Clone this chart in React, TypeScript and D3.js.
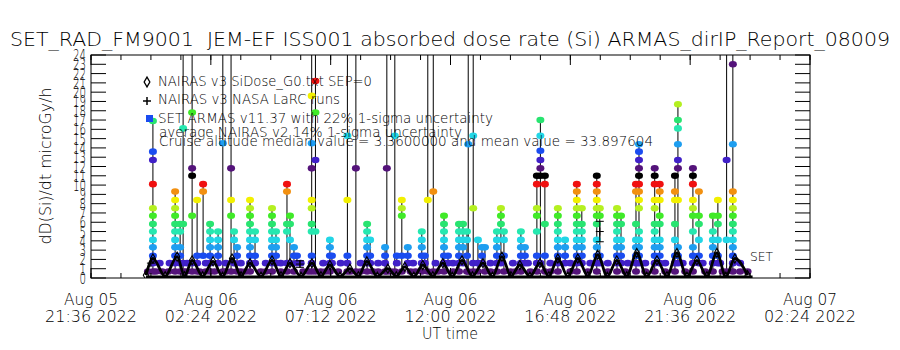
import React from 'react';
import * as d3 from 'd3';

const W = 900;
const H = 350;
const PLOT = { left: 91, right: 810, top: 55, bottom: 278 };

const TITLE = 'SET_RAD_FM9001  JEM-EF ISS001 absorbed dose rate (Si) ARMAS_dirIP_Report_08009';
const Y_LABEL = 'dD(Si)/dt microGy/h';
const X_LABEL = 'UT time';

const X_START = Date.UTC(2022, 7, 5, 21, 36);
const X_END = Date.UTC(2022, 7, 7, 2, 24);
const DAY0 = Date.UTC(2022, 7, 6, 0, 0);

const X_TICK_LINE1 = ['Aug 05', 'Aug 06', 'Aug 06', 'Aug 06', 'Aug 06', 'Aug 06', 'Aug 07'];
const X_TICK_LINE2 = ['21:36 2022', '02:24 2022', '07:12 2022', '12:00 2022', '16:48 2022', '21:36 2022', '02:24 2022'];
const Y_TICKS = [0, 1, 2, 3, 4, 5, 6, 7, 8, 9, 10, 11, 12, 13, 14, 15, 16, 17, 18, 19, 20, 21, 22, 23, 24];

const LEGEND = [
  'NAIRAS v3 SiDose_G0.txt SEP=0',
  'NAIRAS v3 NASA LaRC runs',
  'SET ARMAS v11.37 with 22% 1-sigma uncertainty',
  'average NAIRAS v2 14% 1-sigma uncertainty',
  'Cruise altitude median value = 3.3600000 and mean value = 33.897604',
];
const SERIES_LABEL = 'SET';

// colour table of the dose levels (cycles every 13 levels)
const PALETTE = ['#54137a', '#4020c8', '#1a4cf0', '#1e9ef0', '#22d6e6', '#26e8b0', '#28e470',
  '#40ea28', '#b4f020', '#f2f000', '#f29010', '#f01010', '#000000'];
const LEVEL_STEP = 0.855;

// NAIRAS v3 (hours after Aug 06 00:00 UT, dose rate) — orbit humps
const NAIRAS_PEAKS: [number, number][] = [
  [0.08, 2.1], [1.05, 2.3], [1.65, 1.9], [2.49, 1.8], [3.25, 2.1], [3.97, 1.6], [4.85, 1.9],
  [5.57, 1.6], [6.45, 1.6], [7.17, 1.4], [7.97, 1.0], [8.65, 1.8], [9.49, 1.0], [10.17, 1.2],
  [10.89, 1.4], [11.69, 1.6], [12.46, 1.9], [13.3, 1.6], [14.06, 2.3], [14.78, 1.4], [15.58, 1.6],
  [16.3, 2.1], [17.1, 2.1], [17.9, 2.5], [18.66, 1.9], [19.46, 2.7], [20.27, 1.9], [21.07, 2.7],
  [21.87, 1.9], [22.67, 2.7], [23.39, 2.1],
];
const NAIRAS_TROUGHS: [number, number][] = [
  [-0.2, 0.3], [0.57, 0.2], [1.35, 0.2], [2.07, 0.2], [2.87, 0.15], [3.61, 0.2], [4.41, 0.15],
  [5.21, 0.2], [6.01, 0.15], [6.81, 0.2], [7.57, 0.15], [8.31, 0.2], [9.07, 0.15], [9.83, 0.2],
  [10.53, 0.15], [11.29, 0.2], [12.07, 0.15], [12.88, 0.2], [13.68, 0.15], [14.42, 0.2],
  [15.18, 0.15], [15.94, 0.2], [16.7, 0.15], [17.5, 0.2], [18.28, 0.15], [19.06, 0.2],
  [19.86, 0.15], [20.67, 0.2], [21.47, 0.15], [22.27, 0.2], [23.03, 0.15], [23.9, 0.3],
];
const NAIRAS_FLOOR: [number, number][] = [[-0.2, 0.1], [24.1, 0.1]];

// NAIRAS v3 LaRC runs: [hour, value, 1-sigma]
const LARC: [number, number, number][] = [[0.0, 1.6, 0], [5.97, 1.5, 0.35], [17.98, 5.0, 1.1]];

// SET ARMAS readings grouped by time: [hour, readings, runs off the top]
const ARMAS: [number, number[], boolean][] = [
  [0.08, [0.7, 1.6, 2.4, 3.3, 4.1, 5.0, 5.8, 6.7, 7.5, 10.1, 12.7, 13.6, 16.9], false],
  [0.97, [0.7, 1.6, 2.4, 3.3, 4.1, 5.0, 5.8, 6.7, 7.5, 8.4, 9.3], false],
  [1.17, [0.7, 1.6, 2.4, 3.3, 5.0, 5.8], false],
  [1.29, [0.7, 1.6, 5.8, 16.1], true],
  [1.65, [0.7, 1.6, 6.7, 11.0, 11.8, 17.8], true],
  [1.85, [0.7, 1.6, 2.4, 8.4], false],
  [2.09, [2.4, 9.3, 10.1], false],
  [2.37, [0.7, 1.6, 2.4, 3.3, 4.1, 5.0, 5.8], false],
  [2.69, [1.6, 2.4, 3.3, 4.1, 5.0], false],
  [2.88, [0.7, 14.5], true],
  [3.21, [0.7, 11.8, 8.4, 6.7], true],
  [3.33, [1.6, 5.0, 4.1], false],
  [3.45, [0.7, 3.3, 2.4], false],
  [3.97, [0.7, 1.6, 2.4, 3.3, 4.1, 5.0, 5.8, 6.7, 7.5, 8.4], false],
  [4.17, [1.6, 2.4, 4.1, 5.0], false],
  [4.85, [0.7, 1.6, 2.4, 3.3, 4.1, 5.0, 5.8, 6.7, 7.5], false],
  [5.01, [1.6, 2.4, 3.3, 4.1, 5.0], false],
  [5.45, [0.7, 1.6, 5.0, 5.8, 9.3, 10.1], false],
  [5.57, [1.6, 4.1, 5.8, 6.7], false],
  [5.73, [0.7, 2.4, 3.3], false],
  [5.85, [1.6, 2.4], false],
  [6.44, [0.7, 1.6, 2.4, 5.0, 5.8, 7.5, 8.4, 11.8, 14.5, 19.6], true],
  [6.59, [0.7, 5.0, 12.7, 17.8, 21.2], true],
  [7.17, [0.7, 1.6, 2.4, 3.3, 4.1], false],
  [7.25, [1.6, 2.4], false],
  [7.87, [0.7, 1.6, 2.4, 8.4, 15.3], true],
  [8.21, [0.7, 11.8], true],
  [8.66, [0.7, 1.6, 2.4, 3.3, 4.1, 5.0, 5.8], false],
  [8.78, [1.6, 2.4, 4.1], false],
  [9.38, [0.7, 1.6, 2.4, 3.3], false],
  [9.45, [0.7, 11.8], true],
  [9.77, [0.7, 15.3], true],
  [9.85, [1.6, 2.4], false],
  [10.05, [0.7, 2.4, 6.7, 7.5, 8.4], false],
  [10.29, [1.6, 2.4, 3.3], false],
  [10.85, [0.7, 1.6, 2.4, 3.3, 4.1, 5.0], false],
  [10.97, [1.6, 2.4], false],
  [11.09, [0.7, 8.4], true],
  [11.31, [0.7, 9.3], true],
  [11.74, [0.7, 1.6, 2.4, 3.3, 4.1, 5.0, 5.8, 6.7], false],
  [11.9, [1.6, 2.4], false],
  [12.34, [0.7, 1.6, 2.4, 3.3, 4.1, 5.0, 5.8], false],
  [12.5, [1.6, 3.3, 4.1, 5.0, 5.8], false],
  [12.66, [0.7, 2.4, 4.1, 5.0], false],
  [12.71, [0.7, 14.4], true],
  [12.91, [0.7, 7.5, 15.3], true],
  [13.1, [0.7, 1.6, 4.1], false],
  [13.26, [1.6, 2.4, 3.3], false],
  [13.38, [0.7, 3.3], false],
  [13.86, [0.7, 1.6, 2.4, 3.3, 4.1, 5.0], false],
  [14.02, [1.6, 5.8, 6.7, 7.5], false],
  [14.14, [0.7, 2.4, 4.1, 5.0], false],
  [14.82, [0.7, 1.6, 2.4, 3.3, 4.1, 5.0], false],
  [14.98, [1.6, 2.4, 3.3], false],
  [15.46, [0.7, 1.6, 2.4, 5.0, 6.7, 7.5, 10.1, 11.0], false],
  [15.6, [1.6, 11.0, 11.8, 12.7, 13.7, 15.3, 17.0], false],
  [15.78, [0.7, 2.4, 5.8, 10.1, 11.0], false],
  [16.3, [0.7, 1.6, 2.4, 3.3, 4.1, 5.0, 5.8, 6.7, 7.5], false],
  [16.59, [1.6, 2.4, 3.3, 4.1], false],
  [17.06, [0.7, 1.6, 2.4, 3.3, 4.1, 5.0, 5.8, 6.7, 7.5, 8.4, 9.3, 10.1], false],
  [17.26, [1.6, 2.4, 3.3, 4.1, 5.0, 5.8, 7.5], false],
  [17.86, [0.7, 1.6, 2.4, 3.3, 4.1, 5.8, 6.7, 7.5, 8.4, 9.3, 10.1, 11.0], false],
  [17.98, [1.6, 2.4, 6.7, 7.5], false],
  [18.67, [0.7, 1.6, 2.4, 3.3, 4.1, 5.0, 5.8, 6.7, 7.5], false],
  [18.83, [1.6, 2.4, 3.3, 4.1, 5.8, 6.7], false],
  [19.43, [0.7, 1.6, 2.4, 3.3, 4.1, 5.8, 9.3, 10.1], false],
  [19.55, [1.6, 2.4, 3.3, 4.1, 5.0, 7.5, 8.4, 9.3, 10.1, 11.0, 11.8, 12.7, 13.6, 14.4], false],
  [20.18, [0.7, 1.6, 2.4, 3.3, 4.1, 5.0, 5.8, 7.5, 8.4, 10.1, 11.0, 11.8], false],
  [20.38, [1.6, 2.4, 3.3, 4.1, 5.8, 6.7, 8.4, 9.3, 10.1], false],
  [20.99, [0.7, 1.6, 2.4, 4.1, 5.8, 8.4, 9.3, 11.0], false],
  [21.11, [1.6, 2.4, 3.3, 8.4, 11.8, 12.7, 14.4, 16.1, 17.0, 18.7], false],
  [21.71, [0.7, 1.6, 2.4, 3.3, 5.0, 6.7, 7.5, 8.4, 10.1, 11.0, 11.8], false],
  [21.95, [1.6, 2.4, 4.1, 5.8, 6.7, 9.3], false],
  [22.51, [0.7, 1.6, 2.4, 3.3, 4.1, 5.0, 6.7], false],
  [22.71, [1.6, 2.4, 4.1, 5.8, 6.7, 8.4], false],
  [23.06, [0.7, 4.1, 12.7], true],
  [23.31, [0.7, 1.6, 2.4, 3.3, 4.1, 5.0, 5.8, 6.7, 7.5, 8.4, 9.3, 14.4, 23.0], true],
];

// SET ARMAS quiet-time readings between the columns: [hour, value]
const ARMAS_QUIET: [number, number][] = [
  [-0.12, 0.7], [0.2, 0.7], [0.45, 0.7], [0.7, 0.7], [1.4, 0.7], [1.95, 0.7], [2.2, 0.7],
  [2.55, 0.7], [3.0, 0.7], [3.6, 0.7], [3.8, 0.7], [4.4, 0.7], [4.6, 0.7], [5.2, 0.7],
  [6.1, 0.7], [6.3, 0.7], [6.8, 0.7], [7.0, 0.7], [7.5, 0.7], [8.0, 0.7], [8.4, 0.7],
  [8.9, 0.7], [9.1, 0.7], [9.6, 0.7], [10.4, 0.7], [10.6, 0.7], [11.5, 0.7], [12.1, 0.7],
  [13.6, 0.7], [14.4, 0.7], [14.6, 0.7], [15.2, 0.7], [16.0, 0.7], [16.8, 0.7], [17.5, 0.7],
  [18.3, 0.7], [19.0, 0.7], [19.8, 0.7], [20.6, 0.7], [21.4, 0.7], [22.2, 0.7], [22.9, 0.7],
  [23.6, 0.7], [23.9, 0.7],
  [0.35, 1.6], [0.75, 1.6], [1.45, 1.6], [2.2, 1.6], [3.0, 1.6], [3.6, 1.6], [4.6, 1.6],
  [5.2, 1.6], [6.0, 1.6], [6.9, 1.6], [7.6, 1.6], [8.4, 1.6], [9.1, 1.6], [10.5, 1.6],
  [11.4, 1.6], [12.1, 1.6], [12.9, 1.6], [13.6, 1.6], [14.5, 1.6], [15.1, 1.6], [16.0, 1.6],
  [16.8, 1.6], [17.6, 1.6], [18.3, 1.6], [19.1, 1.6], [19.8, 1.6], [20.6, 1.6], [21.3, 1.6],
  [22.1, 1.6], [22.8, 1.6], [23.6, 1.6],
];

const SPIKE_TOP = 30;
const FONT = 'DejaVu Sans, Liberation Sans, sans-serif';

function levelColor(v: number) {
  const n = Math.round((v - 0.7) / LEVEL_STEP);
  return PALETTE[((n % 13) + 13) % 13];
}

export default function App() {
  const x = d3.scaleUtc().domain([new Date(X_START), new Date(X_END)]).range([PLOT.left, PLOT.right]);
  const y = d3.scaleLinear().domain([0, 24]).range([PLOT.bottom, PLOT.top]);
  const hx = (h: number) => x(new Date(DAY0 + h * 3600e3));

  const majorTicks = d3.range(0, 7).map((i) => new Date(X_START + i * 4.8 * 3600e3));
  const minorTicks = d3.range(0, 25).map((i) => new Date(X_START + i * 1.2 * 3600e3));

  const nairas = [...NAIRAS_PEAKS, ...NAIRAS_TROUGHS].sort((a, b) => a[0] - b[0]);
  const nLine = d3.line<[number, number]>().x((d) => hx(d[0])).y((d) => y(d[1])).curve(d3.curveMonotoneX);
  const floorLine = d3.line<[number, number]>().x((d) => hx(d[0])).y((d) => y(d[1]));

  const dots: { h: number; v: number }[] = [];
  ARMAS_QUIET.forEach(([h, v]) => dots.push({ h, v }));
  ARMAS.forEach(([h, vals]) => vals.forEach((v) => dots.push({ h, v })));

  const diamond = d3.symbol().type(d3.symbolDiamond).size(24)();

  return (
    <svg width={W} height={H} style={{ position: 'absolute', left: 0, top: 0, background: '#fff' }} fontFamily={FONT} fontWeight={200}>
      <defs>
        <clipPath id="plotclip">
          <rect x={PLOT.left} y={PLOT.top} width={PLOT.right - PLOT.left} height={PLOT.bottom - PLOT.top} />
        </clipPath>
      </defs>
      <rect width={W} height={H} fill="#fff" />
      <text x={10} y={46} fontSize={20} textLength={880} lengthAdjust="spacingAndGlyphs" style={{ whiteSpace: 'pre' }}>{TITLE}</text>

      <g clipPath="url(#plotclip)">
        {ARMAS.map(([h, vals, spike], i) => (
          <line key={'c' + i} x1={hx(h)} x2={hx(h)} y1={y(Math.min(...vals))}
            y2={y(spike ? SPIKE_TOP : Math.max(...vals))} stroke="#000" strokeWidth={1} />
        ))}
        {dots.map((d, i) => (
          <ellipse key={'d' + i} cx={hx(d.h)} cy={y(d.v)} rx={4} ry={3.3} fill={levelColor(d.v)} />
        ))}
        <path d={floorLine(NAIRAS_FLOOR) || ''} fill="none" stroke="#000" strokeWidth={3} />
        <path d={nLine(nairas) || ''} fill="none" stroke="#000" strokeWidth={2.8} />
        {nairas.map((d, i) => (
          <path key={'n' + i} d={diamond} transform={`translate(${hx(d[0])},${y(d[1])})`} fill="none" stroke="#000" strokeWidth={1.1} />
        ))}
        {LARC.map(([h, v, e], i) => (
          <g key={'l' + i} stroke="#000" strokeWidth={1}>
            <line x1={hx(h) - 4} x2={hx(h) + 4} y1={y(v)} y2={y(v)} />
            <line x1={hx(h)} x2={hx(h)} y1={y(v) - 4} y2={y(v) + 4} />
            {e > 0 && (
              <g>
                <line x1={hx(h)} x2={hx(h)} y1={y(v - e)} y2={y(v + e)} />
                <line x1={hx(h) - 4} x2={hx(h) + 4} y1={y(v - e)} y2={y(v - e)} />
                <line x1={hx(h) - 4} x2={hx(h) + 4} y1={y(v + e)} y2={y(v + e)} />
              </g>
            )}
          </g>
        ))}
      </g>

      {/* frame */}
      <rect x={PLOT.left} y={PLOT.top} width={PLOT.right - PLOT.left} height={PLOT.bottom - PLOT.top} fill="none" stroke="#000" strokeWidth={1} />
      {Y_TICKS.map((t) => (
        <g key={'yt' + t} stroke="#000" strokeWidth={1}>
          <line x1={PLOT.left} x2={PLOT.left + 15} y1={y(t)} y2={y(t)} />
          <line x1={PLOT.right - 15} x2={PLOT.right} y1={y(t)} y2={y(t)} />
        </g>
      ))}
      {Y_TICKS.map((t) => (
        <text key={'yl' + t} x={86} y={y(t) + 6} fontSize={16} textAnchor="end"
          textLength={String(t).length * 6.5} lengthAdjust="spacingAndGlyphs">{t}</text>
      ))}
      {minorTicks.map((d, i) => (
        <g key={'xm' + i} stroke="#000" strokeWidth={1}>
          <line x1={x(d)} x2={x(d)} y1={PLOT.bottom} y2={PLOT.bottom - 5} />
          <line x1={x(d)} x2={x(d)} y1={PLOT.top} y2={PLOT.top + 5} />
        </g>
      ))}
      {majorTicks.map((d, i) => (
        <g key={'xM' + i} stroke="#000" strokeWidth={1}>
          <line x1={x(d)} x2={x(d)} y1={PLOT.bottom} y2={PLOT.bottom - 10} />
          <line x1={x(d)} x2={x(d)} y1={PLOT.top} y2={PLOT.top + 10} />
        </g>
      ))}
      {majorTicks.map((d, i) => (
        <g key={'xl' + i} fontSize={15} textAnchor="middle">
          <text x={x(d)} y={305} textLength={54} lengthAdjust="spacingAndGlyphs">{X_TICK_LINE1[i]}</text>
          <text x={x(d)} y={322} textLength={92} lengthAdjust="spacingAndGlyphs">{X_TICK_LINE2[i]}</text>
        </g>
      ))}
      <text x={450} y={339} fontSize={15} textAnchor="middle" textLength={56} lengthAdjust="spacingAndGlyphs">{X_LABEL}</text>
      <text transform={`translate(51,166) rotate(-90)`} fontSize={16} textAnchor="middle" textLength={157} lengthAdjust="spacingAndGlyphs">{Y_LABEL}</text>

      {/* legend */}
      <path d={d3.symbol().type(d3.symbolDiamond).size(28)() || ''} transform="translate(147,82)" fill="#fff" stroke="#000" strokeWidth={1.3} />
      <g stroke="#000" strokeWidth={1.5}>
        <line x1={143} x2={151} y1={101} y2={101} />
        <line x1={147} x2={147} y1={97} y2={105} />
      </g>
      <rect x={146} y={115} width={7} height={7} fill="#1a4cf0" />
      <text x={158} y={86} fontSize={14} textLength={214} lengthAdjust="spacingAndGlyphs">{LEGEND[0]}</text>
      <text x={158} y={104} fontSize={14} textLength={182} lengthAdjust="spacingAndGlyphs">{LEGEND[1]}</text>
      <text x={158} y={123} fontSize={14} textLength={335} lengthAdjust="spacingAndGlyphs">{LEGEND[2]}</text>
      <text x={159} y={137} fontSize={14} textLength={303} lengthAdjust="spacingAndGlyphs">{LEGEND[3]}</text>
      <text x={159} y={146} fontSize={14} textLength={494} lengthAdjust="spacingAndGlyphs">{LEGEND[4]}</text>
      <text x={750} y={261} fontSize={13} textLength={23} lengthAdjust="spacingAndGlyphs">{SERIES_LABEL}</text>
    </svg>
  );
}
